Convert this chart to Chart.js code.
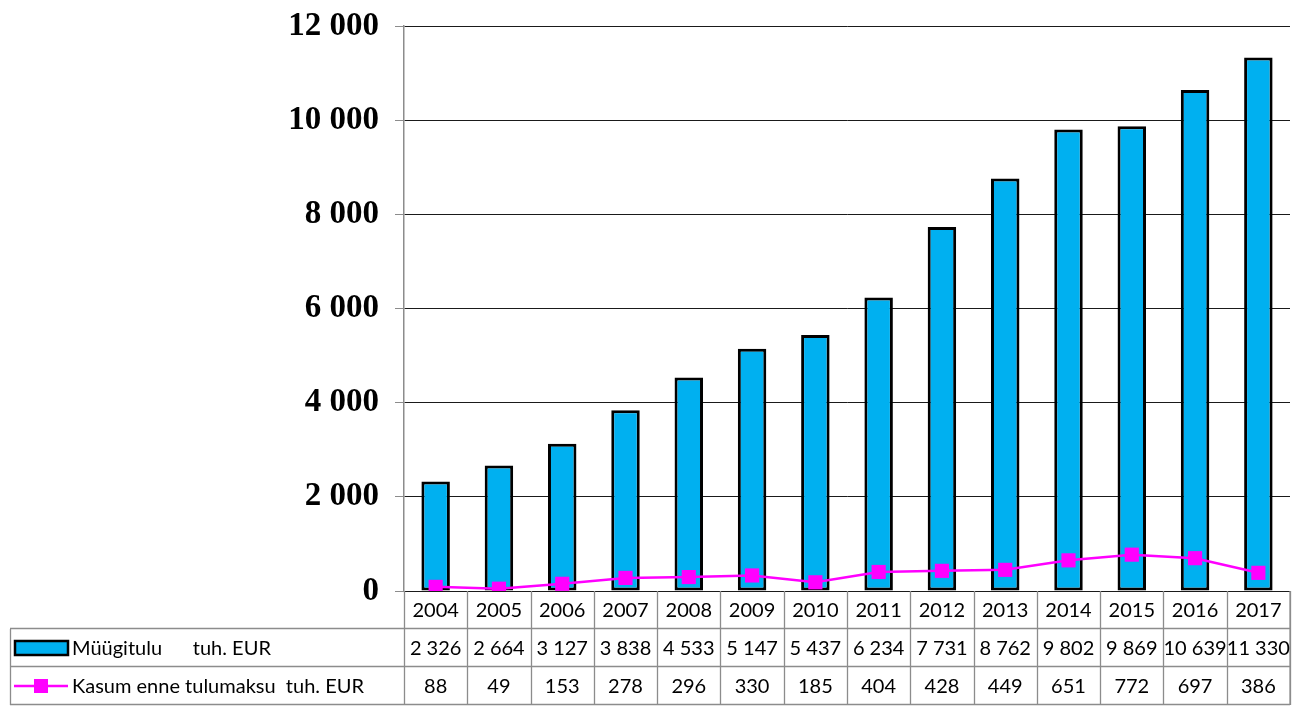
<!DOCTYPE html>
<html>
<head>
<meta charset="utf-8">
<script src="https://cdn.jsdelivr.net/npm/chart.js@4"></script>
<style>
    body { margin: 0; background: #fff; }
    #wrap { width: 1304px; height: 706px; }
</style>
</head>
<body>
<div id="wrap"><canvas id="salesChart" width="1304" height="706"></canvas></div>
<script>
const years = ['2004', '2005', '2006', '2007', '2008', '2009', '2010', '2011', '2012', '2013', '2014', '2015', '2016', '2017'];
const salesValues = [2326, 2664, 3127, 3838, 4533, 5147, 5437, 6234, 7731, 8762, 9802, 9869, 10639, 11330];
const profitValues = [88, 49, 153, 278, 296, 330, 185, 404, 428, 449, 651, 772, 697, 386];
const salesLabel = 'Müügitulu      tuh. EUR';
const profitLabel = 'Kasum enne tulumaksu  tuh. EUR';

const TABLE_FONT = '20px Lato, "Open Sans", sans-serif';
const GRID_GRAY = '#8c8c8c';

function fmt(v) {
    return String(v).replace(/\B(?=(\d{3})+(?!\d))/g, ' ');
}

// draws the data table under the plot, lined up with the x scale
const dataTable = {
    id: 'dataTable',
    afterDraw(chart) {
        const ctx = chart.ctx;
        const area = chart.chartArea;
        const x = chart.scales.x;
        const top = area.bottom;
        const rowH = (chart.height - 1 - top) / 3;
        const tableLeft = 10;
        const step = x.getPixelForValue(1) - x.getPixelForValue(0);
        const left = x.getPixelForValue(0) - step / 2;
        const right = x.getPixelForValue(years.length - 1) + step / 2;
        const bottom = top + rowH * 3;

        ctx.save();
        ctx.strokeStyle = GRID_GRAY;
        ctx.lineWidth = 1.3;
        ctx.beginPath();
        // vertical cell lines
        for (let i = 0; i <= years.length; i++) {
            const px = Math.round(left + step * i) + 0.5;
            ctx.moveTo(px, top);
            ctx.lineTo(px, bottom);
        }
        ctx.moveTo(right, top);
        ctx.lineTo(right, bottom);
        ctx.moveTo(tableLeft + 0.5, top + rowH);
        ctx.lineTo(tableLeft + 0.5, bottom);
        // horizontal lines
        for (let r = 1; r <= 3; r++) {
            const py = Math.round(top + rowH * r) - 0.5;
            ctx.moveTo(tableLeft, py);
            ctx.lineTo(right, py);
        }
        ctx.stroke();

        ctx.fillStyle = '#000';
        ctx.font = TABLE_FONT;
        ctx.textAlign = 'center';
        ctx.textBaseline = 'middle';
        years.forEach((y, i) => {
            const cx = x.getPixelForValue(i);
            ctx.fillText(y, cx, top + rowH * 0.5 + 1);
            ctx.fillText(fmt(salesValues[i]), cx, top + rowH * 1.5 + 1);
            ctx.fillText(fmt(profitValues[i]), cx, top + rowH * 2.5 + 1);
        });

        // legend keys
        const row2 = top + rowH * 1.5;
        const row3 = top + rowH * 2.5;
        ctx.fillStyle = '#00b0f0';
        ctx.fillRect(15, row2 - 7, 53, 14);
        ctx.strokeStyle = '#000';
        ctx.lineWidth = 2.5;
        ctx.strokeRect(15, row2 - 7, 53, 14);

        ctx.strokeStyle = '#ff00ff';
        ctx.lineWidth = 2.5;
        ctx.beginPath();
        ctx.moveTo(14, row3);
        ctx.lineTo(68, row3);
        ctx.stroke();
        ctx.fillStyle = '#ff00ff';
        ctx.fillRect(34, row3 - 7, 14, 14);

        ctx.fillStyle = '#000';
        ctx.textAlign = 'left';
        ctx.fillText(salesLabel, 72, row2 + 1);
        ctx.fillText(profitLabel, 72, row3 + 1);
        ctx.restore();
    }
};

function setupChart() {
    const ctx = document.getElementById('salesChart');
    return new Chart(ctx, {
        type: 'bar',
        data: {
            labels: years,
            datasets: [{
                type: 'line',
                label: profitLabel,
                data: profitValues,
                borderColor: '#ff00ff',
                backgroundColor: '#ff00ff',
                borderWidth: 2.5,
                pointStyle: 'rect',
                pointRadius: 10,
                pointBorderWidth: 0,
                tension: 0,
                order: 0
            }, {
                label: salesLabel,
                data: salesValues,
                backgroundColor: '#00b0f0',
                borderColor: '#000',
                borderWidth: 3,
                borderSkipped: false,
                barPercentage: 0.45,
                categoryPercentage: 1,
                order: 1
            }]
        },
        options: {
            responsive: false,
            animation: false,
            devicePixelRatio: 1,
            layout: {
                padding: {top: 26, right: 14, bottom: 115, left: 0}
            },
            plugins: {
                legend: {display: false},
                tooltip: {enabled: false}
            },
            scales: {
                x: {
                    display: false,
                    offset: true
                },
                y: {
                    min: 0,
                    max: 12000,
                    afterFit(scale) {
                        scale.width = 404;
                        scale.paddingTop = 0;
                        scale.paddingBottom = 0;
                    },
                    ticks: {
                        stepSize: 2000,
                        padding: 16,
                        color: '#000',
                        font: {family: '"Liberation Serif", "Times New Roman", serif', size: 33, weight: 'bold'},
                        callback: (v) => fmt(v)
                    },
                    grid: {
                        color: '#1a1a1a',
                        lineWidth: 1,
                        tickLength: 9,
                        tickColor: GRID_GRAY
                    },
                    border: {color: GRID_GRAY, width: 1.5}
                }
            }
        },
        plugins: [dataTable]
    });
}

function main() {
    setupChart();
}

main();
</script>
</body>
</html>
